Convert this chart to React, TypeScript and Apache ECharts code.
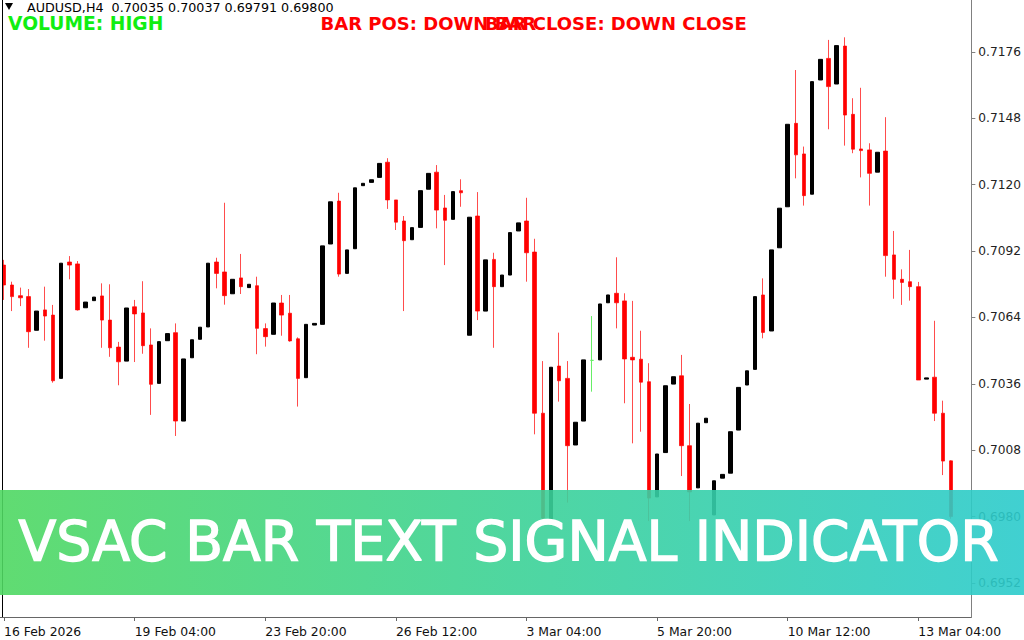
import React, { useEffect, useRef } from 'react';
import * as echarts from 'echarts';

const symbolTitle = 'AUDUSD,H4';

const opens = [
  0.70861, 0.70777, 0.70732, 0.70728, 0.70586, 0.70672, 0.70650, 0.70383, 0.70874, 0.70866,
  0.70681, 0.70711, 0.70731, 0.70629, 0.70515, 0.70456, 0.70685, 0.70659, 0.70524, 0.70362,
  0.70542, 0.70576, 0.70203, 0.70470, 0.70548, 0.70600, 0.70874, 0.70832, 0.70740, 0.70807,
  0.70766, 0.70774, 0.70593, 0.70569, 0.70701, 0.70658, 0.70550, 0.70386, 0.70608, 0.70611,
  0.70950, 0.71131, 0.70826, 0.70930, 0.71196, 0.71210, 0.71231, 0.71295, 0.71136, 0.71047,
  0.70968, 0.71020, 0.71181, 0.71253, 0.71102, 0.71054, 0.71175, 0.70565, 0.71068, 0.70667,
  0.70885, 0.70770, 0.70819, 0.71005, 0.71047, 0.70916, 0.70236, 0.69773, 0.70435, 0.70383,
  0.70102, 0.70203, 0.70459, 0.70461, 0.70702, 0.70742, 0.70710, 0.70472, 0.70464, 0.70369,
  0.69883, 0.70070, 0.70359, 0.70394, 0.70099, 0.69921, 0.70196, 0.69807, 0.69962, 0.69983,
  0.70165, 0.70355, 0.70421, 0.70735, 0.70583, 0.70934, 0.71107, 0.71459, 0.71330, 0.71160,
  0.71642, 0.71733, 0.71625, 0.71785, 0.71497, 0.71351, 0.71347, 0.71253, 0.71342, 0.70904,
  0.70801, 0.70791, 0.70770, 0.70380, 0.70388, 0.70236, 0.70035,
];
const highs = [
  0.70883, 0.70791, 0.70766, 0.70760, 0.70667, 0.70770, 0.70693, 0.70869, 0.70899, 0.70878,
  0.70705, 0.70726, 0.70784, 0.70780, 0.70537, 0.70680, 0.70714, 0.70793, 0.70594, 0.70538,
  0.70572, 0.70615, 0.70465, 0.70546, 0.70599, 0.70869, 0.70892, 0.71124, 0.70801, 0.70908,
  0.70780, 0.70812, 0.70615, 0.70701, 0.70735, 0.70735, 0.70556, 0.70611, 0.70615, 0.70942,
  0.71128, 0.71166, 0.70925, 0.71187, 0.71206, 0.71221, 0.71290, 0.71312, 0.71136, 0.71068,
  0.71019, 0.71175, 0.71248, 0.71283, 0.71157, 0.71171, 0.71223, 0.71063, 0.71169, 0.70883,
  0.70913, 0.70819, 0.70998, 0.71039, 0.71145, 0.70972, 0.70456, 0.70430, 0.70576, 0.70456,
  0.70198, 0.70461, 0.70646, 0.70697, 0.70735, 0.70894, 0.70742, 0.70710, 0.70584, 0.70447,
  0.70064, 0.70352, 0.70390, 0.70482, 0.70275, 0.70194, 0.70215, 0.69951, 0.69978, 0.70158,
  0.70345, 0.70415, 0.70728, 0.70805, 0.70925, 0.71101, 0.71455, 0.71684, 0.71361, 0.71635,
  0.71729, 0.71811, 0.71787, 0.71822, 0.71565, 0.71609, 0.71375, 0.71337, 0.71485, 0.71005,
  0.70843, 0.70925, 0.70790, 0.70385, 0.70626, 0.70289, 0.70037,
];
const lows = [
  0.70714, 0.70667, 0.70688, 0.70512, 0.70586, 0.70542, 0.70365, 0.70383, 0.70801, 0.70669,
  0.70681, 0.70711, 0.70512, 0.70474, 0.70354, 0.70456, 0.70452, 0.70487, 0.70229, 0.70362,
  0.70542, 0.70140, 0.70203, 0.70470, 0.70548, 0.70600, 0.70763, 0.70694, 0.70740, 0.70739,
  0.70766, 0.70485, 0.70517, 0.70569, 0.70563, 0.70538, 0.70264, 0.70386, 0.70608, 0.70611,
  0.70950, 0.70812, 0.70826, 0.70930, 0.71196, 0.71210, 0.71231, 0.71098, 0.71009, 0.70667,
  0.70968, 0.71020, 0.71181, 0.71016, 0.70861, 0.71054, 0.71107, 0.70565, 0.70629, 0.70667,
  0.70512, 0.70770, 0.70819, 0.71005, 0.70791, 0.70147, 0.69786, 0.69773, 0.70285, 0.69859,
  0.70102, 0.70203, 0.70327, 0.70461, 0.70702, 0.70594, 0.70278, 0.70109, 0.70158, 0.69781,
  0.69883, 0.70070, 0.70359, 0.69971, 0.69781, 0.69921, 0.70196, 0.69807, 0.69962, 0.69983,
  0.70165, 0.70355, 0.70421, 0.70552, 0.70583, 0.70934, 0.71107, 0.71227, 0.71112, 0.71160,
  0.71642, 0.71434, 0.71625, 0.71365, 0.71333, 0.71231, 0.71112, 0.71253, 0.70812, 0.70719,
  0.70693, 0.70711, 0.70376, 0.70380, 0.70203, 0.69975, 0.69791,
];
const closes = [
  0.70777, 0.70728, 0.70723, 0.70580, 0.70667, 0.70646, 0.70373, 0.70869, 0.70861, 0.70672,
  0.70705, 0.70726, 0.70629, 0.70512, 0.70453, 0.70680, 0.70655, 0.70521, 0.70358, 0.70538,
  0.70572, 0.70203, 0.70465, 0.70546, 0.70599, 0.70869, 0.70826, 0.70732, 0.70801, 0.70770,
  0.70780, 0.70594, 0.70559, 0.70701, 0.70650, 0.70541, 0.70383, 0.70611, 0.70615, 0.70942,
  0.71128, 0.70823, 0.70925, 0.71187, 0.71206, 0.71221, 0.71290, 0.71136, 0.71042, 0.70964,
  0.71019, 0.71175, 0.71248, 0.71093, 0.71050, 0.71171, 0.71166, 0.71063, 0.70667, 0.70883,
  0.70770, 0.70819, 0.70998, 0.71039, 0.70913, 0.70236, 0.69794, 0.70430, 0.70373, 0.70099,
  0.70198, 0.70461, 0.70459, 0.70697, 0.70735, 0.70702, 0.70465, 0.70461, 0.70367, 0.69878,
  0.70064, 0.70352, 0.70390, 0.70099, 0.69904, 0.70194, 0.70215, 0.69951, 0.69978, 0.70158,
  0.70345, 0.70415, 0.70728, 0.70577, 0.70925, 0.71101, 0.71455, 0.71326, 0.71154, 0.71635,
  0.71729, 0.71614, 0.71787, 0.71494, 0.71350, 0.71344, 0.71248, 0.71337, 0.70901, 0.70801,
  0.70788, 0.70770, 0.70376, 0.70385, 0.70236, 0.70034, 0.69800,
];

const xTickLabels = [
  '16 Feb 2026', '19 Feb 04:00', '23 Feb 20:00', '26 Feb 12:00',
  '3 Mar 04:00', '5 Mar 20:00', '10 Mar 12:00', '13 Mar 04:00',
];
const xTickEvery = 16;
const emptySlotsRight = 2;

const yTicks = [0.6952, 0.698, 0.7008, 0.7036, 0.7064, 0.7092, 0.712, 0.7148, 0.7176];
const yMin = 0.693763;
const yMax = 0.719794;

const volumeText = 'VOLUME: HIGH';
const barPosText = 'BAR POS: DOWN BAR';
const barCloseText = 'BAR CLOSE: DOWN CLOSE';
const bannerText = 'VSAC BAR TEXT SIGNAL INDICATOR';

const FONT = '"DejaVu Sans", Verdana, sans-serif';

export default function App() {
  const ref = useRef<HTMLDivElement>(null);

  useEffect(() => {
    if (!ref.current) return;
    const chart = echarts.init(ref.current, undefined, { renderer: 'svg' });

    const n = opens.length;
    const categories = Array.from({ length: n + emptySlotsRight }, (_, i) => String(i));
    const data = opens.map((o, i) => {
      const v = [o, closes[i], lows[i], highs[i]];
      if (o === closes[i]) {
        return {
          value: v,
          itemStyle: {
            color: '#22dd22',
            color0: '#22dd22',
            borderColor: '#66ee66',
            borderColor0: '#66ee66',
            borderColorDoji: '#66ee66',
          },
        };
      }
      return v;
    });
    const last = n - 1;
    const header = `${symbolTitle}  ${opens[last].toFixed(5)} ${highs[last].toFixed(5)} ${lows[last].toFixed(5)} ${closes[last].toFixed(5)}`;
    const tickFn = (index: number) => index % xTickEvery === 0;

    chart.setOption({
      animation: false,
      backgroundColor: '#ffffff',
      grid: { left: -1, right: 52, top: 0, bottom: 23, containLabel: false },
      xAxis: {
        type: 'category',
        data: categories,
        boundaryGap: true,
        axisLine: { show: true, lineStyle: { color: '#666666', width: 1 } },
        axisTick: {
          show: true,
          alignWithLabel: true,
          interval: tickFn,
          length: 4,
          lineStyle: { color: '#666666' },
        },
        axisLabel: {
          interval: tickFn,
          formatter: (_v: string, index: number) =>
            index % xTickEvery === 0 ? xTickLabels[index / xTickEvery] ?? '' : '',
          align: 'left',
          margin: 8,
          color: '#111',
          fontFamily: FONT,
          fontSize: 12.4,
        },
        splitLine: { show: false },
      },
      yAxis: {
        type: 'value',
        position: 'right',
        min: yMin,
        max: yMax,
        scale: true,
        axisLine: { show: true, lineStyle: { color: '#808080', width: 1 } },
        axisTick: {
          show: true,
          length: 4,
          customValues: yTicks,
          lineStyle: { color: '#808080' },
        },
        axisLabel: {
          customValues: yTicks,
          formatter: (v: number) => v.toFixed(4),
          margin: 7,
          color: '#222',
          fontFamily: FONT,
          fontSize: 12.2,
        },
        splitLine: { show: false },
      },
      series: [
        {
          type: 'candlestick',
          data,
          barWidth: 4,
          itemStyle: {
            color: '#000000',
            color0: '#ff0000',
            borderColor: '#000000',
            borderColor0: 'rgba(255,0,0,0.7)',
            borderColorDoji: '#66ee66',
            borderWidth: 1,
          },
          markLine: {
            silent: true,
            symbol: ['none', 'none'],
            lineStyle: { opacity: 0 },
            label: {
              show: true,
              position: 'end',
              distance: 1,
              formatter: () => closes[last].toFixed(4),
              backgroundColor: '#000000',
              color: '#ffffff',
              padding: [4, 5, 3, 5],
              fontFamily: FONT,
              fontSize: 12.2,
            },
            data: [{ yAxis: closes[last] }],
          },
        },
      ],
      graphic: [
        {
          type: 'line',
          z: 50,
          shape: { x1: 2.5, y1: 0, x2: 2.5, y2: 617 },
          style: { stroke: '#000000', lineWidth: 1 },
        },
        {
          type: 'polygon',
          z: 50,
          shape: { points: [[5, 3], [13, 3], [9, 10]] },
          style: { fill: '#000000' },
        },
        {
          type: 'text',
          z: 50,
          x: 27,
          y: 7,
          style: {
            text: header,
            fill: '#000000',
            fontFamily: FONT,
            fontSize: 12.7,
            verticalAlign: 'middle',
          },
        },
        {
          type: 'text',
          z: 50,
          x: 8,
          y: 23,
          style: {
            text: volumeText,
            fill: '#11ee11',
            fontFamily: FONT,
            fontWeight: 'bold',
            fontSize: 18.7,
            verticalAlign: 'middle',
          },
        },
        {
          type: 'text',
          z: 50,
          x: 320.5,
          y: 23,
          style: {
            text: barPosText,
            fill: '#ff0000',
            fontFamily: FONT,
            fontWeight: 'bold',
            fontSize: 18,
            verticalAlign: 'middle',
          },
        },
        {
          type: 'text',
          z: 50,
          x: 485,
          y: 23,
          style: {
            text: barCloseText,
            fill: '#ff0000',
            fontFamily: FONT,
            fontWeight: 'bold',
            fontSize: 18,
            verticalAlign: 'middle',
          },
        },
        {
          type: 'rect',
          z: 100,
          shape: { x: 0, y: 490, width: 1024, height: 105 },
          style: {
            fill: new echarts.graphic.LinearGradient(0, 0, 1, 0, [
              { offset: 0, color: '#4fd862' },
              { offset: 0.5, color: '#3cd296' },
              { offset: 1, color: '#2ccbcc' },
            ]),
            opacity: 0.9,
          },
        },
        {
          type: 'text',
          z: 101,
          x: 508.5,
          y: 541,
          style: {
            text: bannerText,
            fill: '#ffffff',
            stroke: '#ffffff',
            lineWidth: 1.4,
            fontFamily: FONT,
            fontWeight: 'normal',
            fontSize: 55.2,
            align: 'center',
            verticalAlign: 'middle',
          },
        },
      ],
    });

    return () => chart.dispose();
  }, []);

  return (
    <div
      ref={ref}
      style={{ position: 'fixed', left: 0, top: 0, width: 1024, height: 640, background: '#fff' }}
    />
  );
}
